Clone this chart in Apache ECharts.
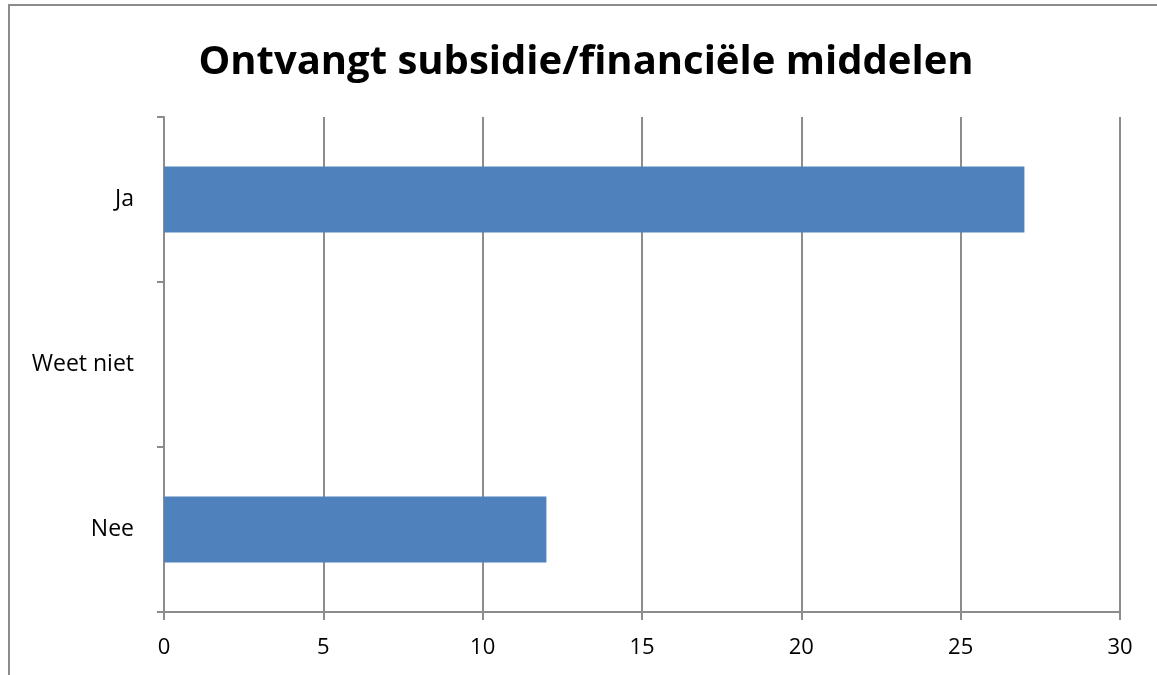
<!DOCTYPE html>
<html><head><meta charset="utf-8">
<script src="https://cdn.jsdelivr.net/npm/echarts@6/dist/echarts.min.js"></script>
<style>html,body{margin:0;padding:0;background:#fff}#c{width:1157px;height:675px;position:relative}
#frame{position:absolute;left:8px;top:4px;width:1200px;height:700px;border:2px solid #8c8c8c;box-sizing:border-box;pointer-events:none}</style>
</head><body>
<div id="c"></div><div id="frame"></div>
<script>
const titleText = 'Ontvangt subsidie/financiële middelen';
const categories = ['Nee', 'Weet niet', 'Ja'];
const values = [12, 0, 27];
const xTicks = { min: 0, max: 30, interval: 5 };

const chart = echarts.init(document.getElementById('c'));
chart.setOption({
  animation: false,
  title: { text: titleText, left: 581, top: 38, textAlign: 'center',
    textStyle: { fontFamily: 'Open Sans', fontWeight: 'bold', fontSize: 40, color: '#000' } },
  grid: { left: 164, right: 37, top: 117, bottom: 63, containLabel: false },
  xAxis: { type: 'value', min: xTicks.min, max: xTicks.max, interval: xTicks.interval,
    axisLine: { show: true, lineStyle: { color: '#8c8c8c', width: 2 } },
    axisTick: { show: true, length: 8, lineStyle: { color: '#8c8c8c', width: 2 } },
    splitLine: { show: true, lineStyle: { color: '#8c8c8c', width: 2 } },
    axisLabel: { color: '#000', fontFamily: 'Open Sans', fontSize: 22, margin: 25 } },
  yAxis: { type: 'category', data: categories,
    axisLine: { show: true, lineStyle: { color: '#8c8c8c', width: 2 } },
    axisTick: { show: true, length: 7, inside: false, alignWithLabel: false, lineStyle: { color: '#8c8c8c', width: 2 } },
    axisLabel: { color: '#000', fontFamily: 'Open Sans', fontSize: 23, margin: 30 } },
  series: [{ type: 'bar', data: values, barCategoryGap: '60%',
    itemStyle: { color: '#4F81BD' } }]
});
</script>
</body></html>
